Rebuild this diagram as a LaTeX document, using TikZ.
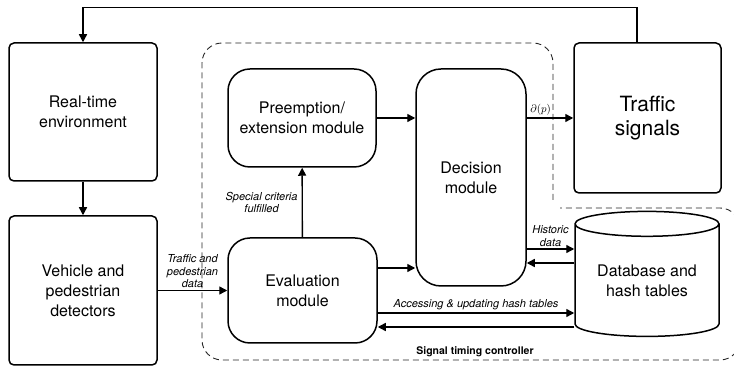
\documentclass[tikz,border=0pt]{standalone}
\usepackage{fontspec}
\setmainfont{TeX Gyre Heros}
\usetikzlibrary{arrows.meta, shapes.geometric}

\begin{document}
\begin{tikzpicture}[x=1pt, y=1pt,
  blk/.style={draw, line width=1.5pt, rounded corners=5pt, align=center, inner sep=0pt, font=\fontsize{16}{20}\selectfont},
  mod/.style={blk, rounded corners=22pt},
  arr/.style={-{Triangle[length=8pt,width=8pt]}, line width=1.4pt},
  lbl/.style={font=\fontsize{11}{12.5}\selectfont\itshape, align=center, inner sep=2pt},
  ctrl/.style={dash pattern=on 6pt off 4pt, line width=0.9pt, black!85}]
  \useasboundingbox (0,0) rectangle (734,366);

  \node[blk, minimum width=148, minimum height=138] (rt) at (83,254) {Real-time\\environment};
  \node[blk, minimum width=148, minimum height=149] (veh) at (83,75.5) {Vehicle and\\pedestrian\\detectors};
  \node[blk, minimum width=147, minimum height=150, font=\fontsize{21}{24}\selectfont] (trf) at (647.5,248) {Traffic\\signals};

  \node[mod, minimum width=148, minimum height=98] (pre) at (302,248) {Preemption/\\extension module};
  \node[mod, rounded corners=25pt, minimum width=110, minimum height=217] (dec) at (471,188.5) {Decision\\module};
  \node[mod, minimum width=149, minimum height=105] (eval) at (302.5,75.5) {Evaluation\\module};
  \node[draw, line width=1.5pt, cylinder, shape border rotate=90, aspect=0.25, minimum width=144, minimum height=125, inner sep=0pt, align=center, font=\fontsize{16}{20}\selectfont] (db) at (647,85.5) {Database and\\hash tables};

  \draw[ctrl, rounded corners=20] (553,166) -- (553,323) -- (202,323) -- (202,6) -- (740,6) -- (740,158) -- (560,158);
  \node[font=\fontsize{10.5}{12}\selectfont\bfseries] (stc) at (475,14) {Signal timing controller};

  \draw[arr] (rt) -- (veh);
  \draw[arr] ([xshift=-10.5]trf.north) -- ++(0,35) -| (rt.north);
  \draw[arr] (veh) -- (eval) node[lbl, midway, above] {Traffic and\\pedestrian\\data};
  \draw[arr] (eval) -- (pre) node[lbl, midway, left, inner sep=4pt] {Special criteria\\fulfilled};
  \draw[arr] (pre) -- (pre -| dec.west);
  \draw[arr] (pre -| dec.east) -- (trf) node[pos=0.3, above, inner sep=2pt, font=\fontsize{11}{12}\selectfont] {$\partial(p)$};
  \draw[arr] ([yshift=22.5]eval.east) -- ([yshift=22.5]eval.east -| dec.west);
  \draw[arr] ([yshift=-71.5]dec.east) -- ([yshift=-71.5]dec.east -| db.west) node[lbl, midway, above] {Historic\\data};
  \draw[arr] ([yshift=-85.5]dec.east -| db.west) -- ([yshift=-85.5]dec.east);
  \draw[arr] ([yshift=-22.5]eval.east) -- ([yshift=-22.5]eval.east -| db.west) node[lbl, midway, above] {Accessing \& updating hash tables};
  \draw[arr] ([yshift=-36.5]eval.east -| db.west) -- ([yshift=-36.5]eval.east);
\end{tikzpicture}
\end{document}
